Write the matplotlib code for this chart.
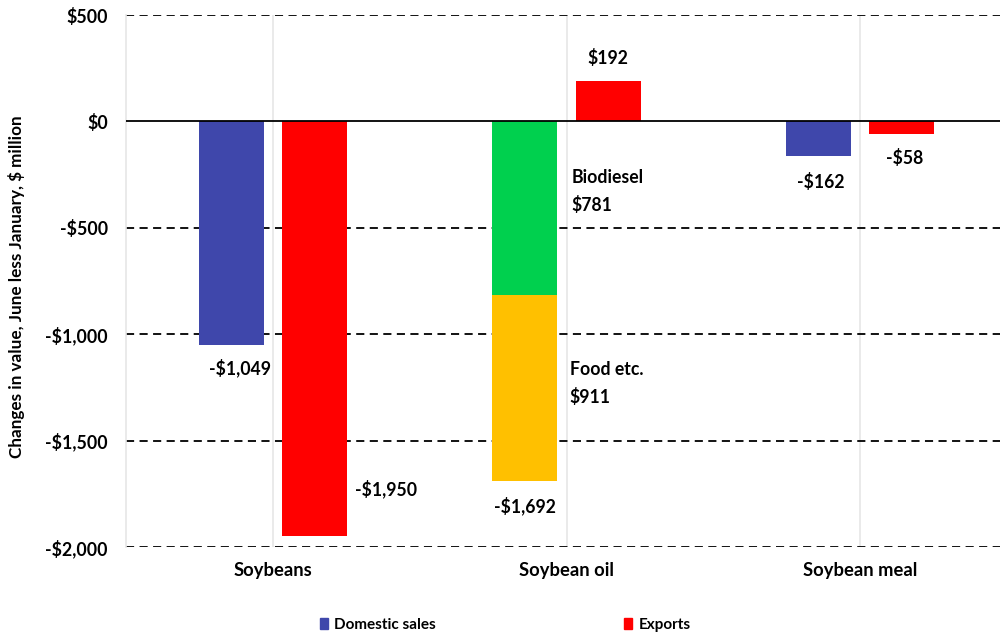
import numpy as np
import matplotlib.pyplot as plt
from matplotlib.patches import Patch

plt.rcParams['font.family'] = ['Lato', 'DejaVu Sans']
plt.rcParams['font.weight'] = 'bold'

categories = ['Soybeans', 'Soybean oil', 'Soybean meal']
domestic = [-1049, np.nan, -162]
exports = [-1950, 192, -58]
biodiesel = -816
food = -876
domestic_labels = ['-$1,049', '-$1,692', '-$162']
export_labels = ['-$1,950', '$192', '-$58']

blue = '#3F47AB'
red = '#FF0000'
green = '#00D04E'
orange = '#FFC000'

fig = plt.figure(figsize=(10, 6.39), dpi=100)
ax = fig.add_axes([0.126, 0.144, 0.881, 0.8325])

x = np.arange(len(categories))
w = 0.222
off = 0.142

ax.bar(x - off, domestic, w, color=blue, zorder=3)
ax.bar(x + off, exports, w, color=red, zorder=3)
ax.bar(x[1] - off, biodiesel, w, color=green, zorder=3)
ax.bar(x[1] - off, food, w, bottom=biodiesel, color=orange, zorder=3)

ax.set_ylim(-2000, 500)
ax.set_xlim(-0.5, 2.5)
ax.set_yticks([500, 0, -500, -1000, -1500, -2000])
ax.set_yticklabels(['$500', '$0', '-$500', '-$1,000', '-$1,500', '-$2,000'],
                   fontsize=12.8, fontweight='bold')
ax.set_xticks(x)
ax.set_xticklabels(categories, fontsize=13.2, fontweight='bold')
ax.tick_params(axis='y', length=0, pad=13)
ax.tick_params(axis='x', length=0, pad=11)

for yv in [500, -500, -1000, -1500, -2000]:
    ax.axhline(yv, color='black', lw=1.3, ls=(0, (4.5, 3)), zorder=2)
ax.axhline(0, color='black', lw=1.3, zorder=4)
for xv in x:
    ax.axvline(xv, color='#E6E6E6', lw=1.2, zorder=1)

for s in ['top', 'right', 'bottom']:
    ax.spines[s].set_visible(False)
ax.spines['left'].set_color('#E6E6E6')
ax.spines['left'].set_linewidth(1.2)

ax.set_ylabel('Changes in value, June less January, $ million', fontsize=12.3, fontweight='bold')
ax.yaxis.set_label_coords(-0.1146, 0.49)

fs = 12.7
ax.text(x[0] - off + 0.03, -1156, domestic_labels[0], ha='center', va='center', fontsize=fs)
ax.text(x[0] + off + 0.137, -1729, export_labels[0], ha='left', va='center', fontsize=fs)
ax.text(x[1] + off, 296, export_labels[1], ha='center', va='center', fontsize=fs)
ax.text(x[1] - off, -1805, domestic_labels[1], ha='center', va='center', fontsize=fs)
ax.text(x[1] + 0.018, -331, 'Biodiesel\n$781', ha='left', va='center', fontsize=fs, linespacing=1.65)
ax.text(x[1] + 0.011, -1233, 'Food etc.\n$911', ha='left', va='center', fontsize=fs, linespacing=1.65)
ax.text(x[2] - off + 0.008, -287, domestic_labels[2], ha='center', va='center', fontsize=fs)
ax.text(x[2] + off + 0.009, -174, export_labels[2], ha='center', va='center', fontsize=fs)

handles = [Patch(color=blue, label='Domestic sales'), Patch(color=red, label='Exports')]
fig.legend(handles=handles, loc='center', bbox_to_anchor=(0.505, 0.022), ncol=2,
           frameon=False, fontsize=11, handlelength=0.55, handleheight=0.72,
           columnspacing=12.3, handletextpad=0.4)

fig.savefig('out.png', dpi=100)
